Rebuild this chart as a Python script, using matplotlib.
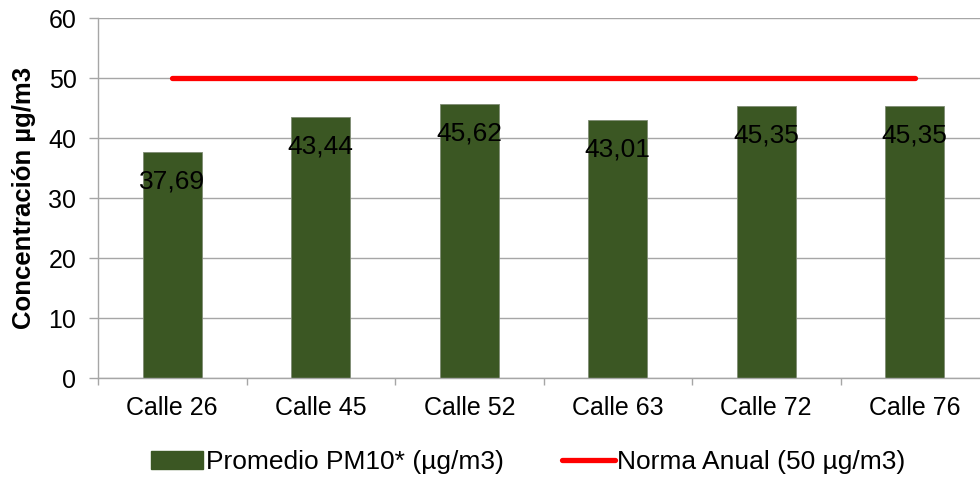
import numpy as np
import matplotlib
matplotlib.use("Agg")
import matplotlib.pyplot as plt
from matplotlib.lines import Line2D
from matplotlib.patches import Patch

calles = ["Calle 26", "Calle 45", "Calle 52", "Calle 63", "Calle 72", "Calle 76"]
promedio_pm10 = [37.69, 43.44, 45.62, 43.01, 45.35, 45.35]
norma_anual = [50, 50, 50, 50, 50, 50]
etiquetas = ["37,69", "43,44", "45,62", "43,01", "45,35", "45,35"]

plt.rcParams["font.family"] = ["Liberation Sans", "DejaVu Sans"]

fig = plt.figure(figsize=(9.8, 4.79), dpi=100)
ax = fig.add_axes([98 / 980, 1 - 378 / 479, 891 / 980, 360 / 479])

x = np.arange(len(calles))
grid_col = "#a6a6a6"
bar_col = "#3b5723"

ax.bar(x, promedio_pm10, width=0.4, color=bar_col, edgecolor="#7f8c74",
       linewidth=0.6, zorder=2)
ax.plot(x, norma_anual, color="#ff0000", linewidth=3.8,
        solid_capstyle="round", zorder=3)

for xi, v, lab in zip(x, promedio_pm10, etiquetas):
    ax.annotate(lab, (xi, v), xytext=(0, -21), textcoords="offset points",
                ha="center", va="center", fontsize=19, color="black", zorder=4)

ax.set_xlim(-0.5, len(calles) - 0.5)
ax.set_ylim(0, 60)
ax.set_yticks(range(0, 61, 10))
ax.set_xticks(x)
ax.set_xticklabels(calles)
ax.set_xticks(np.arange(-0.5, len(calles)), minor=True)
ax.tick_params(axis="x", which="major", length=0, pad=13, labelsize=18)
ax.tick_params(axis="x", which="minor", length=5, color=grid_col, width=1)
ax.tick_params(axis="y", length=6.5, color=grid_col, width=1, labelsize=18, pad=9)

ax.grid(axis="y", color=grid_col, linewidth=1, zorder=0)
ax.set_axisbelow(True)
for s in ["top", "right"]:
    ax.spines[s].set_visible(False)
for s in ["left", "bottom"]:
    ax.spines[s].set_color(grid_col)
    ax.spines[s].set_linewidth(1)

ax.set_ylabel("Concentración µg/m3", fontsize=18.5, fontweight="bold", labelpad=9)

handles = [Patch(facecolor=bar_col, edgecolor=bar_col),
           Line2D([0], [0], color="#ff0000", linewidth=3.8, solid_capstyle="round")]
fig.legend(handles, ["Promedio PM10* (µg/m3)", "Norma Anual (50 µg/m3)"],
           loc="center", bbox_to_anchor=(0.539, 0.035), ncol=2, frameon=False,
           fontsize=19, handlelength=2.0, handletextpad=0.1, columnspacing=2.2)

fig.savefig("out.png", dpi=100)
